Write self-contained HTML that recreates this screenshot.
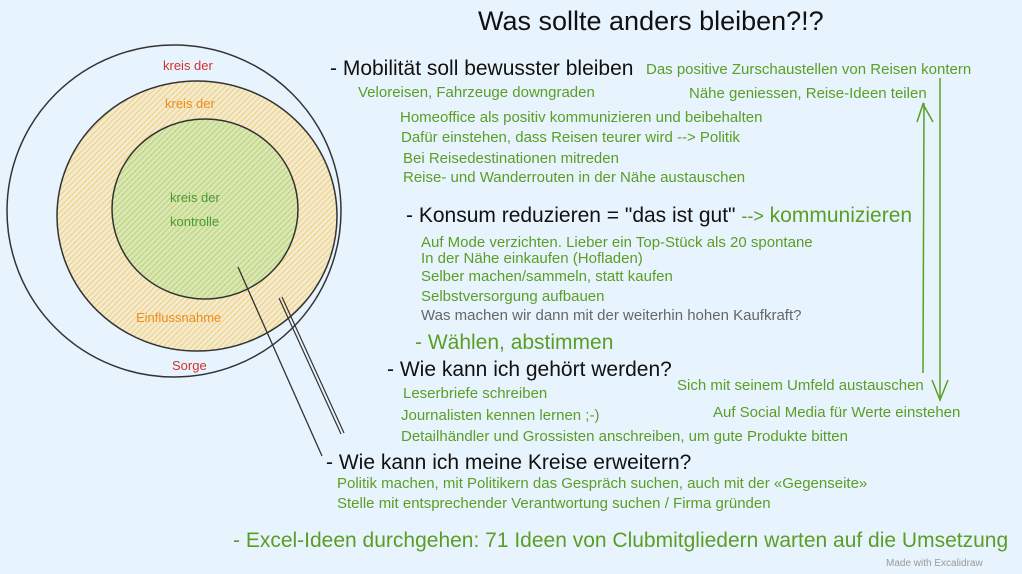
<!DOCTYPE html>
<html><head><meta charset="utf-8"><style>
body{margin:0;width:1022px;height:574px;background:#e8f4fd;position:relative;overflow:hidden;font-family:"Liberation Sans",sans-serif}
.t{position:absolute;white-space:nowrap}
.g{color:#5a9e25;font-size:15px}
.h{color:#111;font-size:21px}
.gh{color:#5a9e25;font-size:21px}
.hand{font-family:"Liberation Sans",sans-serif;font-size:13px}
</style></head><body>
<svg width="1022" height="574" style="position:absolute;left:0;top:0">
<defs>
<pattern id="hy" width="4" height="4" patternUnits="userSpaceOnUse" patternTransform="rotate(45)"><rect width="4" height="4" fill="#f3ead0"/><line x1="0" y1="0" x2="0" y2="4" stroke="#f0cf7a" stroke-width="2"/></pattern>
<pattern id="hg" width="4" height="4" patternUnits="userSpaceOnUse" patternTransform="rotate(45)"><rect width="4" height="4" fill="#dbe6b8"/><line x1="0" y1="0" x2="0" y2="4" stroke="#b8d46a" stroke-width="2"/></pattern>
</defs>
<ellipse cx="174" cy="211" rx="167" ry="166" fill="none" stroke="#333" stroke-width="1.5"/>
<ellipse cx="197" cy="216" rx="140" ry="135" fill="url(#hy)" stroke="#333" stroke-width="1.5"/>
<ellipse cx="205" cy="209" rx="93" ry="90" fill="url(#hg)" stroke="#333" stroke-width="1.5"/>
<line x1="238" y1="267" x2="322" y2="456" stroke="#333" stroke-width="1.3"/>
<line x1="279" y1="298" x2="341" y2="434" stroke="#333" stroke-width="1.2"/>
<line x1="282" y1="297" x2="344" y2="433" stroke="#333" stroke-width="1.2"/>
<path d="M923 373 L924 103 M917 122 L923 104 L933 122" stroke="#5a9e25" stroke-width="1.5" fill="none"/>
<path d="M940 78 L940 397 M932 380 L940 400 L948 380" stroke="#5a9e25" stroke-width="1.5" fill="none"/>
</svg>
<div class="t hand" style="left:163px;top:58px;color:#d03030">kreis der</div>
<div class="t hand" style="left:165px;top:96px;color:#f08c1a">kreis der</div>
<div class="t hand" style="left:170px;top:190px;color:#4a9a30">kreis der</div>
<div class="t hand" style="left:170px;top:214px;color:#4a9a30">kontrolle</div>
<div class="t hand" style="left:136px;top:310px;color:#f08c1a">Einflussnahme</div>
<div class="t hand" style="left:172px;top:358px;color:#d03030">Sorge</div>

<div class="t" style="left:478px;top:6px;font-size:27px;color:#111">Was sollte anders bleiben?!?</div>
<div class="t h" style="left:330px;top:57px">- Mobilität soll bewusster bleiben</div>
<div class="t g" style="left:646px;top:61px">Das positive Zurschaustellen von Reisen kontern</div>
<div class="t g" style="left:358px;top:84px">Veloreisen, Fahrzeuge downgraden</div>
<div class="t g" style="left:689px;top:85px">Nähe geniessen, Reise-Ideen teilen</div>
<div class="t g" style="left:400px;top:109px">Homeoffice als positiv kommunizieren und beibehalten</div>
<div class="t g" style="left:401px;top:129px">Dafür einstehen, dass Reisen teurer wird --&gt; Politik</div>
<div class="t g" style="left:403px;top:150px">Bei Reisedestinationen mitreden</div>
<div class="t g" style="left:403px;top:169px">Reise- und Wanderrouten in der Nähe austauschen</div>
<div class="t h" style="left:406px;top:204px">- Konsum reduzieren = "das ist gut" <span class="gh" style="font-size:18px">--&gt;</span> <span class="gh">kommunizieren</span></div>
<div class="t g" style="left:421px;top:234px">Auf Mode verzichten. Lieber ein Top-Stück als 20 spontane</div>
<div class="t g" style="left:421px;top:250px">In der Nähe einkaufen (Hofladen)</div>
<div class="t g" style="left:421px;top:268px">Selber machen/sammeln, statt kaufen</div>
<div class="t g" style="left:421px;top:288px">Selbstversorgung aufbauen</div>
<div class="t g" style="left:421px;top:307px;color:#666">Was machen wir dann mit der weiterhin hohen Kaufkraft?</div>
<div class="t gh" style="left:415px;top:331px">- Wählen, abstimmen</div>
<div class="t h" style="left:387px;top:358px">- Wie kann ich gehört werden?</div>
<div class="t g" style="left:677px;top:377px">Sich mit seinem Umfeld austauschen</div>
<div class="t g" style="left:403px;top:385px">Leserbriefe schreiben</div>
<div class="t g" style="left:713px;top:404px">Auf Social Media für Werte einstehen</div>
<div class="t g" style="left:401px;top:407px">Journalisten kennen lernen ;-)</div>
<div class="t g" style="left:401px;top:428px">Detailhändler und Grossisten anschreiben, um gute Produkte bitten</div>
<div class="t h" style="left:326px;top:451px">- Wie kann ich meine Kreise erweitern?</div>
<div class="t g" style="left:337px;top:475px">Politik machen, mit Politikern das Gespräch suchen, auch mit der «Gegenseite»</div>
<div class="t g" style="left:337px;top:495px">Stelle mit entsprechender Verantwortung suchen / Firma gründen</div>
<div class="t gh" style="left:233px;top:529px">- Excel-Ideen durchgehen: 71 Ideen von Clubmitgliedern warten auf die Umsetzung</div>
<div class="t hand" style="left:886px;top:558px;font-size:10px;color:#999">Made with Excalidraw</div>
</body></html>
